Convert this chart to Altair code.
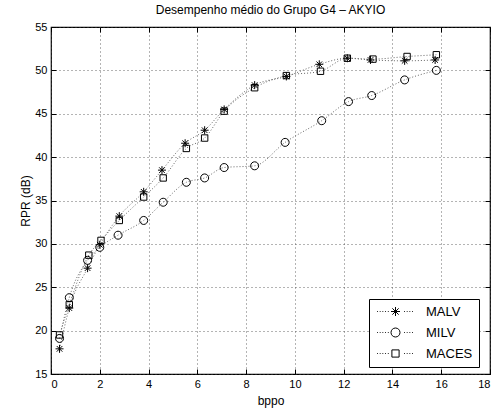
import altair as alt
import pandas as pd

series_names = ["MALV", "MILV", "MACES"]

malv_x = [0.35, 0.75, 1.5, 2.0, 2.8, 3.8, 4.55, 5.5, 6.3, 7.1, 8.35, 9.65, 11.0, 12.15, 13.1, 14.5, 15.75]
malv_y = [17.9, 22.6, 27.2, 29.9, 33.2, 36.0, 38.5, 41.6, 43.1, 45.5, 48.3, 49.3, 50.7, 51.4, 51.2, 51.1, 51.2]

milv_x = [0.35, 0.75, 1.5, 2.0, 2.75, 3.8, 4.6, 5.55, 6.3, 7.1, 8.35, 9.6, 11.1, 12.2, 13.15, 14.5, 15.8]
milv_y = [19.1, 23.8, 28.1, 29.6, 31.0, 32.7, 34.8, 37.1, 37.6, 38.8, 39.0, 41.7, 44.2, 46.4, 47.1, 48.9, 50.0]

maces_x = [0.35, 0.75, 1.55, 2.05, 2.8, 3.8, 4.6, 5.55, 6.3, 7.1, 8.35, 9.65, 11.05, 12.15, 13.2, 14.6, 15.8]
maces_y = [19.5, 23.0, 28.7, 30.4, 32.7, 35.4, 37.6, 41.0, 42.2, 45.3, 48.0, 49.4, 49.9, 51.4, 51.3, 51.6, 51.8]

x_ticks = list(range(0, 19, 2))
y_ticks = list(range(15, 56, 5))

rows = []
for name, xs, ys in zip(series_names, [malv_x, milv_x, maces_x], [malv_y, milv_y, maces_y]):
    for i, (xv, yv) in enumerate(zip(xs, ys)):
        rows.append({"serie": name, "bppo": xv, "rpr": yv, "ordem": i})
df = pd.DataFrame(rows)

# marker shapes (unit paths)
star = "M0,-1L0,1M-1,0L1,0M-0.7,-0.7L0.7,0.7M-0.7,0.7L0.7,-0.7"
circ = "M1,0A1,1 0 1,1 -1,0A1,1 0 1,1 1,0"
sq = "M-0.8,-0.8H0.8V0.8H-0.8Z"

# dotted line for legend symbols
dots = ""
p = -4.1
while p < 4.1:
    if abs(p) > 1.4:
        dots += "M%.2f,0L%.2f,0" % (p, p + 0.18)
    p += 0.6

font = "Liberation Sans"

x_scale = alt.Scale(domain=[0, 18], nice=False, zero=False)
y_scale = alt.Scale(domain=[15, 55], nice=False, zero=False)

base = alt.Chart(df)

lines = base.mark_line(color="#666666", strokeWidth=1, strokeDash=[1, 2], interpolate="monotone").encode(
    x=alt.X("bppo:Q", scale=x_scale,
            axis=alt.Axis(orient="bottom", values=x_ticks, grid=True, tickSize=5, offset=-5, domain=False,
                          labelPadding=4, title="bppo", titlePadding=6)),
    y=alt.Y("rpr:Q", scale=y_scale,
            axis=alt.Axis(orient="left", values=y_ticks, grid=True, tickSize=5, offset=-5, domain=False,
                          labelPadding=4, title="RPR (dB)", titlePadding=2)),
    detail="serie:N",
    order="ordem:Q",
)

points = base.mark_point(filled=False, stroke="black", strokeWidth=1, size=64, opacity=1).encode(
    x=alt.X("bppo:Q", scale=x_scale, axis=None),
    y=alt.Y("rpr:Q", scale=y_scale, axis=None),
    shape=alt.Shape("serie:N",
                    scale=alt.Scale(domain=series_names, range=[star, circ, sq]),
                    legend=None),
)

legend_layer = base.mark_point(filled=False, stroke="black", strokeWidth=1, size=81, opacity=0).encode(
    x=alt.X("bppo:Q", scale=x_scale,
            axis=alt.Axis(orient="top", values=x_ticks, grid=False, labels=False, title=None,
                          tickSize=5, offset=-5, domain=False)),
    y=alt.Y("rpr:Q", scale=y_scale,
            axis=alt.Axis(orient="right", values=y_ticks, grid=False, labels=False, title=None,
                          tickSize=5, offset=-5, domain=False)),
    shape=alt.Shape("serie:N",
                    scale=alt.Scale(domain=series_names, range=[star + dots, circ + dots, sq + dots]),
                    legend=alt.Legend(title=None, orient="none", legendX=318, legendY=272,
                                      fillColor="white", strokeColor="black", padding=6,
                                      cornerRadius=0, symbolSize=81, symbolStrokeColor="black",
                                      symbolStrokeWidth=1, symbolFillColor="transparent",
                                      symbolOpacity=1,
                                      symbolOffset=14, labelOffset=24, labelFontSize=13,
                                      labelFont=font, rowPadding=7)),
)

chart = alt.layer(lines, points, legend_layer).resolve_scale(
    shape="independent"
).resolve_axis(
    x="independent", y="independent"
).properties(
    width=439, height=347,
    background="white",
    title=alt.TitleParams("Desempenho médio do Grupo G4 – AKYIO", fontSize=12, font=font,
                          fontWeight="normal", anchor="middle", offset=4, color="black"),
    autosize=alt.AutoSizeParams(type="none"),
    padding={"left": 51, "top": 27, "right": 12, "bottom": 44},
).configure_view(
    stroke="black", strokeWidth=1.2
).configure_axis(
    labelFont=font, titleFont=font, labelFontSize=11, titleFontSize=12,
    labelColor="black", titleColor="black", titleFontWeight="normal",
    tickColor="black", tickWidth=1,
    gridColor="#444444", gridDash=[1, 3], gridWidth=1, gridOpacity=0.8,
)

chart.save("out.html", embed_options={"renderer": "svg", "actions": False})
